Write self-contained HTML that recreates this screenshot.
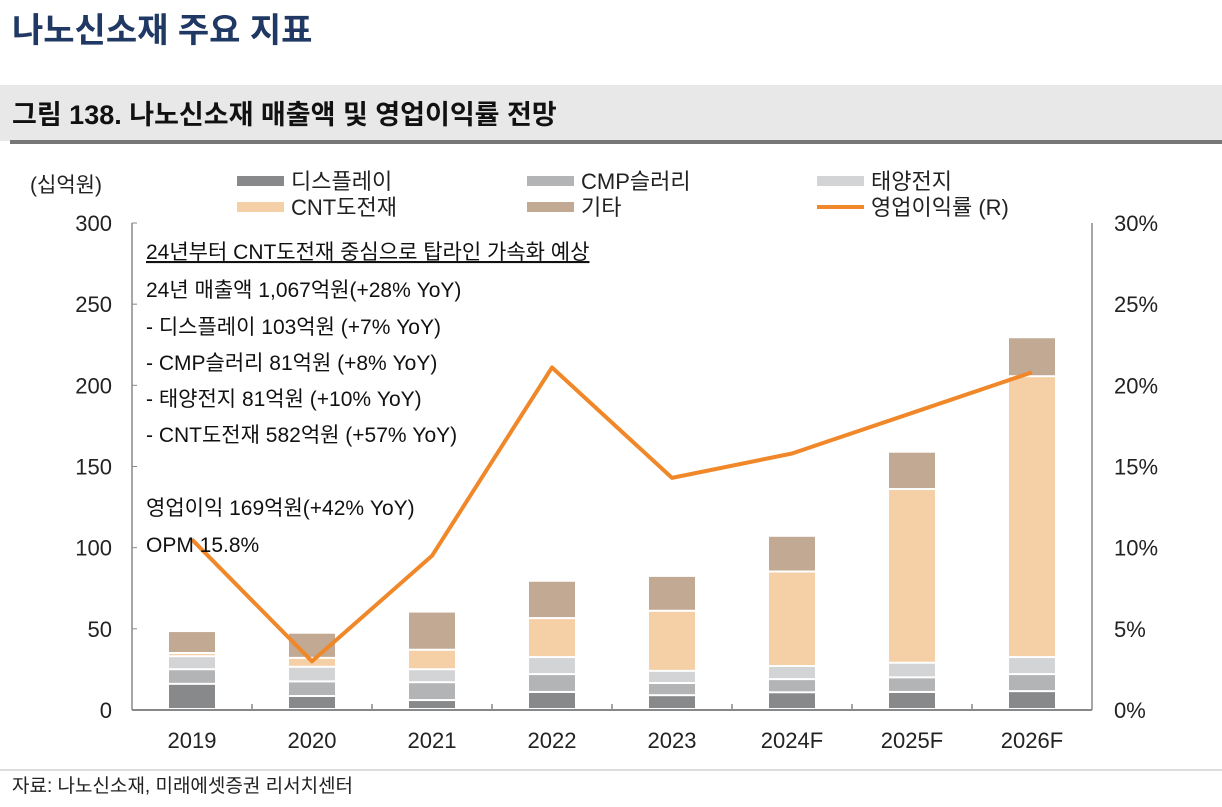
<!DOCTYPE html>
<html><head><meta charset="utf-8"><style>
body{margin:0;width:1222px;height:802px;background:#fff;overflow:hidden;font-family:"Liberation Sans","Noto Sans CJK KR",sans-serif;}
svg text{font-family:"Liberation Sans","Noto Sans CJK KR",sans-serif;}
</style></head><body>
<svg id="chart" width="1222" height="802" xmlns="http://www.w3.org/2000/svg">
<text x="12" y="42" font-size="34" font-weight="bold" fill="#1f3864">나노신소재 주요 지표</text>
<rect x="0" y="85" width="1222" height="56" fill="#e8e8e8"/>
<rect x="10" y="140" width="1212" height="4" fill="#777"/>
<text x="12" y="124" font-size="27" font-weight="bold" fill="#111">그림 138. 나노신소재 매출액 및 영업이익률 전망</text>
<text x="30" y="192" font-size="21" fill="#222">(십억원)</text>
<g id="legend"></g>
<g id="axes"></g>
<g id="bars"></g>
<g id="line"></g>
<g font-size="21" fill="#111">
<text x="146" y="259" text-decoration="underline">24년부터 CNT도전재 중심으로 탑라인 가속화 예상</text>
<text x="146" y="297">24년 매출액 1,067억원(+28% YoY)</text>
<text x="146" y="334">- 디스플레이 103억원 (+7% YoY)</text>
<text x="146" y="370">- CMP슬러리 81억원 (+8% YoY)</text>
<text x="146" y="406">- 태양전지 81억원 (+10% YoY)</text>
<text x="146" y="442">- CNT도전재 582억원 (+57% YoY)</text>
<text x="146" y="515">영업이익 169억원(+42% YoY)</text>
<text x="146" y="552">OPM 15.8%</text>
</g>
<line x1="0" y1="770" x2="1222" y2="770" stroke="#bbb" stroke-width="1"/>
<text x="12" y="792" font-size="19" fill="#222">자료: 나노신소재, 미래에셋증권 리서치센터</text>
</svg>
<script>
const categories=["2019","2020","2021","2022","2023","2024F","2025F","2026F"];
const display=[15.5,8,5.5,10.5,8.5,10.3,10.5,11];
const cmp=[9,9,11,11,7.5,8.1,9,10.5];
const solar=[8,9,8,10.5,7.5,8.1,9,10.5];
const cnt=[2,5.5,12,24,37,58.2,107,173];
const other=[13.5,15.5,23.5,23,21.5,22,23,24];
const opm=[10.5,3.0,9.5,21.1,14.3,15.8,18.3,20.8];
const leftTicks=[0,50,100,150,200,250,300];
const rightTicks=[0,5,10,15,20,25,30];
const seriesNames=["디스플레이","CMP슬러리","태양전지","CNT도전재","기타"];
const seriesColors=["#87898b","#b3b4b6","#d3d4d6","#f5cfa5","#c1a993"];

const NS="http://www.w3.org/2000/svg";
const X0=132,X1=1092,Y0=710,Y1=223;
const band=(X1-X0)/categories.length;
const xc=i=>X0+band*(i+0.5);
const yl=v=>Y0-(v/300)*(Y0-Y1);
const yr=v=>Y0-(v/30)*(Y0-Y1);
function mk(tag,attrs,parent){const e=document.createElementNS(NS,tag);for(const k in attrs)e.setAttribute(k,attrs[k]);parent.appendChild(e);return e;}
const axes=document.getElementById('axes');
let e;
e=mk('line',{x1:X0,y1:Y1,x2:X0,y2:Y0,stroke:'#888','stroke-width':1.5},axes);


e=mk('line',{x1:X1,y1:Y1,x2:X1,y2:Y0,stroke:'#888','stroke-width':1.5},axes);


e=mk('line',{x1:X0,y1:Y0,x2:X1,y2:Y0,stroke:'#888','stroke-width':2},axes);


leftTicks.forEach(v=>{
 e=mk('text',{x:112,y:yl(v)+8,'text-anchor':'end','font-size':22,fill:'#222'},axes);e.textContent=v;
 
 
 e=mk('line',{x1:X0,y1:yl(v),x2:X0+5,y2:yl(v),stroke:'#888'},axes);
 
 
});
rightTicks.forEach(v=>{
 e=mk('text',{x:1114,y:yr(v)+8,'font-size':22,fill:'#222'},axes);e.textContent=v+'%';
 
 
});
categories.forEach((c,i)=>{
 e=mk('text',{x:xc(i),y:Y0+38,'text-anchor':'middle','font-size':22,fill:'#222'},axes);e.textContent=c;
 
 
 if(i>0){e=mk('line',{x1:X0+band*i,y1:Y0,x2:X0+band*i,y2:Y0-6,stroke:'#888','stroke-width':1.5},axes);
 
 }
});
const bars=document.getElementById('bars');
const series=[display,cmp,solar,cnt,other];
categories.forEach((c,i)=>{
 let base=0;
 series.forEach((s,k)=>{
  const top=base+s[i];
  e=mk('rect',{x:xc(i)-23,y:yl(top),width:46,height:Math.max(0,yl(base)-yl(top)-2),fill:seriesColors[k]},bars);
  
  
  base=top;
 });
});
const line=document.getElementById('line');
e=mk('polyline',{points:opm.map((v,i)=>xc(i)+','+yr(v)).join(' '),fill:'none',stroke:'#f0882a','stroke-width':4,'stroke-linejoin':'round'},line);


const legend=document.getElementById('legend');
const lpos=[[237,181],[527,181],[817,181],[237,207],[527,207]];
seriesNames.forEach((n,k)=>{
 e=mk('rect',{x:lpos[k][0],y:lpos[k][1]-5,width:47,height:10,fill:seriesColors[k]},legend);
 
 
 e=mk('text',{x:lpos[k][0]+54,y:lpos[k][1]+8,'font-size':22,fill:'#222'},legend);e.textContent=n;
 
 
});
e=mk('line',{x1:817,y1:207,x2:864,y2:207,stroke:'#f0882a','stroke-width':4},legend);


e=mk('text',{x:871,y:215,'font-size':22,fill:'#222'},legend);e.textContent='영업이익률 (R)';


</script>
</body></html>
